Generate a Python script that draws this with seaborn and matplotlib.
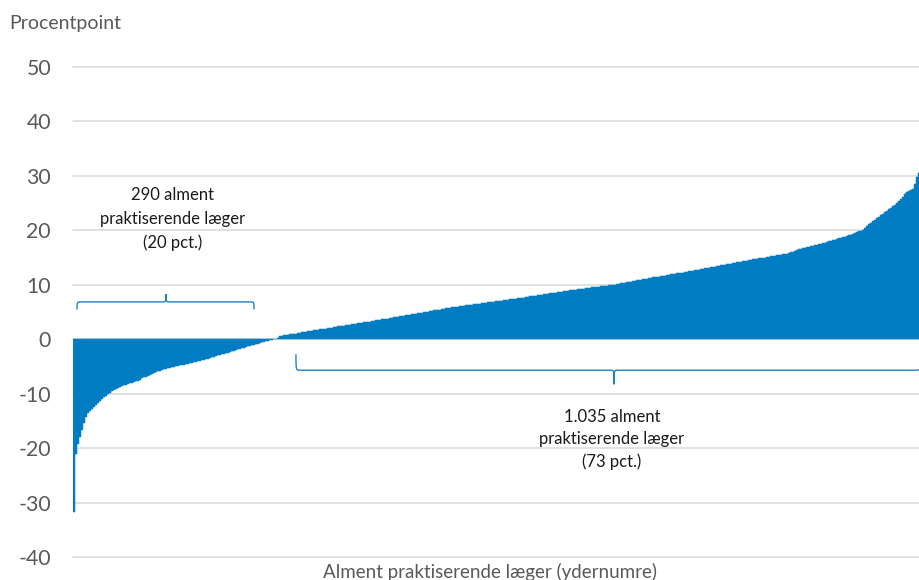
import numpy as np
import pandas as pd
import matplotlib
matplotlib.use("Agg")
import matplotlib.pyplot as plt
from matplotlib.path import Path
from matplotlib.patches import PathPatch
import seaborn as sns

# ---------------- data (sorted difference per group of doctors) ----------------
values = [
    -31.8, -21.0, -19.3, -18.0, -16.6, -15.3, -14.2, -13.6, -13.1, -12.8,
    -12.5, -12.1, -11.8, -11.4, -11.0, -10.7, -10.4, -10.15, -9.85, -9.55,
    -9.3, -9.1, -8.9, -8.75, -8.6, -8.45, -8.35, -8.2, -8.05, -7.95,
    -7.85, -7.7, -7.6, -7.4, -7.2, -7.0, -6.85, -6.7, -6.5, -6.35,
    -6.2, -6.05, -5.9, -5.75, -5.65, -5.55, -5.45, -5.35, -5.25, -5.15,
    -5.05, -4.95, -4.85, -4.8, -4.7, -4.65, -4.55, -4.5, -4.4, -4.35,
    -4.25, -4.15, -4.05, -3.95, -3.85, -3.75, -3.65, -3.55, -3.45, -3.35,
    -3.25, -3.1, -2.95, -2.85, -2.75, -2.65, -2.55, -2.45, -2.35, -2.25,
    -2.1, -1.95, -1.85, -1.75, -1.65, -1.55, -1.4, -1.3, -1.2, -1.1,
    -1.0, -0.9, -0.8, -0.7, -0.55, -0.45, -0.35, -0.25, -0.2, -0.12,
    -0.05, 0.1, 0.3, 0.5, 0.65, 0.75, 0.8, 0.85, 0.9, 0.95,
    1.0, 1.05, 1.1, 1.15, 1.25, 1.3, 1.4, 1.45, 1.55, 1.6,
    1.65, 1.7, 1.75, 1.8, 1.85, 1.9, 1.95, 2.0, 2.05, 2.1,
    2.2, 2.25, 2.35, 2.4, 2.45, 2.5, 2.55, 2.6, 2.7, 2.75,
    2.8, 2.85, 2.95, 3.0, 3.05, 3.1, 3.15, 3.2, 3.25, 3.3,
    3.4, 3.45, 3.5, 3.55, 3.65, 3.7, 3.75, 3.8, 3.9, 3.95,
    4.0, 4.05, 4.15, 4.2, 4.25, 4.3, 4.4, 4.45, 4.5, 4.55,
    4.65, 4.7, 4.75, 4.8, 4.9, 4.95, 5.0, 5.05, 5.15, 5.2,
    5.3, 5.35, 5.4, 5.45, 5.55, 5.6, 5.65, 5.7, 5.8, 5.85,
    5.9, 5.95, 6.0, 6.05, 6.1, 6.15, 6.2, 6.25, 6.3, 6.35,
    6.4, 6.45, 6.5, 6.55, 6.6, 6.65, 6.7, 6.75, 6.8, 6.85,
    6.9, 6.95, 7.0, 7.05, 7.1, 7.15, 7.2, 7.25, 7.3, 7.35,
    7.4, 7.45, 7.5, 7.55, 7.6, 7.65, 7.75, 7.8, 7.85, 7.9,
    7.95, 8.0, 8.05, 8.1, 8.2, 8.25, 8.3, 8.35, 8.4, 8.45,
    8.5, 8.55, 8.65, 8.7, 8.75, 8.8, 8.85, 8.9, 8.95, 9.0,
    9.05, 9.1, 9.15, 9.2, 9.25, 9.3, 9.35, 9.4, 9.45, 9.5,
    9.5, 9.55, 9.6, 9.65, 9.7, 9.75, 9.8, 9.85, 9.9, 9.95,
    10.0, 10.05, 10.15, 10.2, 10.25, 10.3, 10.4, 10.45, 10.55, 10.6,
    10.65, 10.7, 10.8, 10.85, 10.95, 11.0, 11.05, 11.1, 11.2, 11.25,
    11.35, 11.4, 11.45, 11.5, 11.6, 11.65, 11.7, 11.75, 11.85, 11.9,
    11.95, 12.0, 12.1, 12.15, 12.2, 12.25, 12.35, 12.4, 12.45, 12.5,
    12.6, 12.65, 12.75, 12.8, 12.85, 12.9, 13.0, 13.05, 13.15, 13.2,
    13.3, 13.35, 13.45, 13.5, 13.55, 13.6, 13.7, 13.75, 13.85, 13.9,
    14.0, 14.05, 14.15, 14.2, 14.25, 14.3, 14.4, 14.45, 14.5, 14.55,
    14.65, 14.7, 14.8, 14.85, 14.9, 14.95, 15.0, 15.05, 15.15, 15.2,
    15.3, 15.35, 15.4, 15.45, 15.55, 15.6, 15.65, 15.7, 15.85, 16.0,
    16.1, 16.25, 16.35, 16.5, 16.6, 16.7, 16.8, 16.9, 17.0, 17.1,
    17.2, 17.25, 17.35, 17.45, 17.55, 17.65, 17.75, 17.85, 17.95, 18.05,
    18.15, 18.3, 18.4, 18.5, 18.6, 18.75, 18.85, 18.95, 19.1, 19.2,
    19.35, 19.5, 19.65, 19.8, 19.95, 20.15, 20.5, 20.8, 21.1, 21.4,
    21.7, 21.95, 22.2, 22.45, 22.75, 23.05, 23.3, 23.55, 23.85, 24.1,
    24.4, 24.7, 25.0, 25.3, 25.7, 26.2, 26.7, 27.0, 27.2, 27.4,
    27.6, 28.6, 29.8, 30.6,
]
y_ticks = [-40, -30, -20, -10, 0, 10, 20, 30, 40, 50]
y_title = "Procentpoint"
x_title = "Alment praktiserende læger (ydernumre)"
neg_group_text = ["290 alment", "praktiserende læger", "(20 pct.)"]
pos_group_text = ["1.035 alment", "praktiserende læger", "(73 pct.)"]

BLUE = "#007CC2"
BRACE = "#1F82C8"
GRID = "#D9D9D9"
GREY = "#595959"

sns.set_theme(style="white")
plt.rcParams["font.family"] = ["Lato", "DejaVu Sans"]

fig = plt.figure(figsize=(9.2, 5.8), dpi=100)
ax = fig.add_axes([73.3 / 920, 1 - 557 / 580, 1 - 73.3 / 920, (557 - 67) / 580])

df = pd.DataFrame({"rank": np.arange(len(values)), "value": values})
sns.barplot(data=df, x="rank", y="value", color=BLUE, saturation=1, width=1.0,
            linewidth=0.35, edgecolor=BLUE, errorbar=None, ax=ax, zorder=2)

n = len(values)
ax.set_xlim(-0.5, n - 0.5)
ax.set_ylim(-40, 50)
ax.set_xticks([])
ax.set_yticks(y_ticks)
ax.set_yticklabels([str(t) for t in y_ticks])
ax.set_xlabel("")
ax.set_ylabel("")
ax.tick_params(axis="y", length=0, pad=16, labelsize=15.3, labelcolor=GREY)
ax.grid(axis="y", color=GRID, linewidth=1.1)
ax.grid(axis="x", visible=False)
ax.set_axisbelow(True)
for gl in ax.get_ygridlines():
    gl.set_clip_on(False)
for s in ax.spines.values():
    s.set_visible(False)


def brace(ax, x0, x1, xm, yh, ye, yt, r=2.0):
    verts = [
        (x0, ye), (x0, yh), (x0, yh), (x0 + r, yh),
        (xm - r, yh), (xm, yh), (xm, yh), (xm, yt),
        (xm, yh), (xm, yh), (xm + r, yh),
        (x1 - r, yh), (x1, yh), (x1, yh), (x1, ye),
    ]
    codes = [Path.MOVETO, Path.CURVE4, Path.CURVE4, Path.CURVE4,
             Path.LINETO, Path.CURVE4, Path.CURVE4, Path.CURVE4,
             Path.CURVE4, Path.CURVE4, Path.CURVE4,
             Path.LINETO, Path.CURVE4, Path.CURVE4, Path.CURVE4]
    ax.add_patch(PathPatch(Path(verts, codes), fill=False, edgecolor=BRACE,
                           linewidth=1.0, zorder=3, clip_on=True))


# brace over the negative group (tip up) and under the positive group (tip down)
brace(ax, 1.35, 90.0, 45.9, 6.85, 5.45, 8.3)
brace(ax, 111.0, n - 0.3, 270.3, -5.69, -2.76, -8.27)

for txt, yv in zip(neg_group_text, [26.45, 22.04, 17.8]):
    ax.text(49.4, yv, txt, ha="center", va="center", fontsize=12, color="#1A1A1A")
for txt, yv in zip(pos_group_text, [-14.2, -18.4, -22.5]):
    ax.text(269.2, yv, txt, ha="center", va="center", fontsize=12, color="#1A1A1A")

fig.text(9 / 920, 1 - 29.3 / 580, y_title, ha="left", va="baseline",
         fontsize=14, color=GREY)
fig.text(490 / 920, 1 - 578 / 580, x_title, ha="center", va="baseline",
         fontsize=13.5, color=GREY)

fig.savefig("out.png", dpi=100)
